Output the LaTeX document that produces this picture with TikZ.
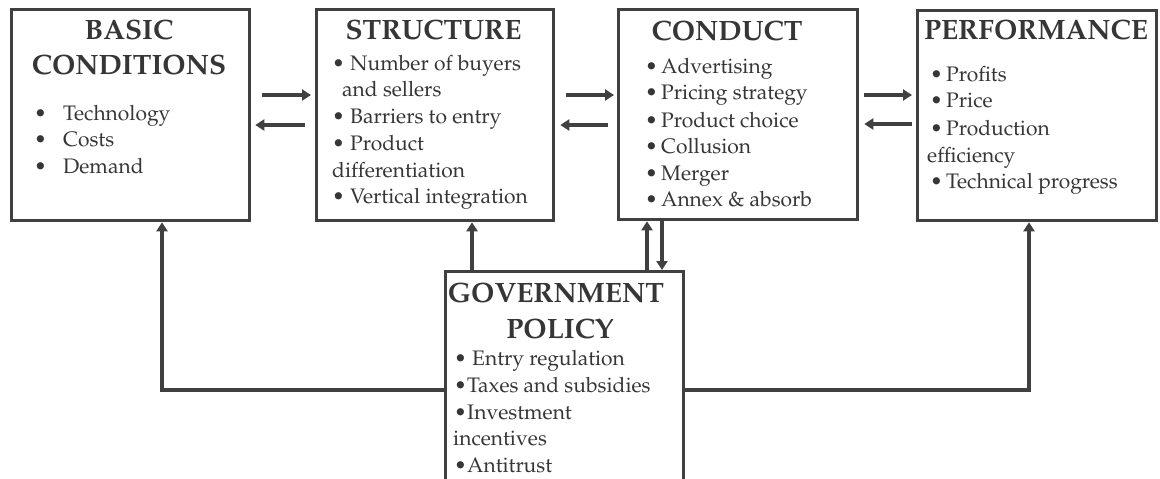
\documentclass[tikz,border=0pt]{standalone}
\usepackage[T1]{fontenc}
\usepackage{mathpazo}
\usetikzlibrary{arrows.meta,calc}
\definecolor{ink}{HTML}{404040}
\definecolor{txt}{HTML}{363636}
% bullet followed by a gap of fixed width
\newcommand{\bitem}[1]{\makebox[#1][l]{\textbullet}}
\begin{document}
\begin{tikzpicture}[x=1pt,y=-1pt,
  box/.style={draw=ink, line width=3.3pt, fill=white, inner sep=0pt, anchor=north west},
  head/.style={anchor=base, font=\fontsize{28}{28}\bfseries\selectfont, text=txt, inner sep=0pt},
  item/.style={anchor=base west, font=\fontsize{21}{21}\selectfont, text=txt, inner sep=0pt},
  link/.style={draw=ink, line width=3.4pt, -{Triangle[length=9pt,width=11pt]}}]
\useasboundingbox (0,0) rectangle (1160,479);
\clip (0,0) rectangle (1160,479);

% the five boxes
\node[box, minimum width=238pt, minimum height=211pt] (basic)  at (10,8)   {};
\node[box, minimum width=237pt, minimum height=211pt] (struct) at (315,8)  {};
\node[box, minimum width=239pt, minimum height=210pt] (cond)   at (617,8)  {};
\node[box, minimum width=239pt, minimum height=210pt] (perf)   at (916,9)  {};
\node[box, minimum width=238pt, minimum height=240pt] (gov)    at (444,270) {};

% BASIC CONDITIONS
\node[head] (bt1) at (129,39) {BASIC};
\node[head] (bt2) at (129,74) {CONDITIONS};
\node[item] (b1) at (34,120) {\bitem{29pt}Technology};
\node[item] (b2) at (34,146) {\bitem{29pt}Costs};
\node[item] (b3) at (34,173) {\bitem{29pt}Demand};

% STRUCTURE
\node[head] (st1) at (433.5,39) {STRUCTURE};
\node[item] (s1) at (332,70)  {\bitem{18pt}Number of buyers};
\node[item] (s2) at (342,96)  {and sellers};
\node[item] (s3) at (332,123) {\bitem{18pt}Barriers to entry};
\node[item] (s4) at (332,150) {\bitem{18pt}Product};
\node[item] (s5) at (332,177) {differentiation};
\node[item] (s6) at (332,203) {\bitem{18pt}Vertical integration};

% CONDUCT
\node[head] (ct1) at (727,40) {CONDUCT};
\node[item] (c1) at (645,73)  {\bitem{16pt}Advertising};
\node[item] (c2) at (645,99)  {\bitem{16pt}Pricing strategy};
\node[item] (c3) at (645,127) {\bitem{16pt}Product choice};
\node[item] (c4) at (645,153) {\bitem{16pt}Collusion};
\node[item] (c5) at (645,180) {\bitem{16pt}Merger};
\node[item] (c6) at (645,206) {\bitem{16pt}Annex \& absorb};

% PERFORMANCE
\node[head] (pt1) at (1036,39) {PERFORMANCE};
\node[item] (p1) at (930,81)  {\bitem{16pt}Profits};
\node[item] (p2) at (930,107) {\bitem{16pt}Price};
\node[item] (p3) at (930,135) {\bitem{16pt}Production};
\node[item] (p4) at (927,162) {efficiency};
\node[item] (p5) at (930,188) {\bitem{16pt}Technical progress};

% GOVERNMENT POLICY
\node[head] (gt1) at (556,302) {GOVERNMENT};
\node[head] (gt2) at (560,338) {POLICY};
\node[item] (g1) at (454,365) {\bitem{18pt}Entry regulation};
\node[item] (g2) at (454,392) {\bitem{13pt}Taxes and subsidies};
\node[item] (g3) at (454,419) {\bitem{13pt}Investment};
\node[item] (g4) at (453,445) {incentives};
\node[item] (g5) at (454,472) {\bitem{13pt}Antitrust};

% paired arrows between neighbouring boxes
\draw[link] ($(basic.north east)+(11,87)$) -- ($(struct.north west)+(-4,87)$);
\draw[link] ($(struct.north west)+(-10,117)$) -- ($(basic.north east)+(4,117)$);
\draw[link] ($(struct.north east)+(11,87)$) -- ($(cond.north west)+(-3,87)$);
\draw[link] ($(cond.north west)+(-9,117)$) -- ($(struct.north east)+(5,117)$);
\draw[link] ($(cond.north east)+(5,87)$) -- ($(perf.north west)+(-4,86)$);
\draw[link] ($(perf.north west)+(-4,115)$) -- ($(cond.north east)+(5,116)$);

% government policy feeding the other boxes
\coordinate (lc) at (162,390);
\coordinate (rc) at (1029,390);
\coordinate (gs) at ($(gov.north west)+(28,0)$);
\coordinate (gu) at ($(gov.north west)+(203,0)$);
\coordinate (gd) at ($(gov.north west)+(218,0)$);
\draw[link] ($(gov.north west)+(0,120)$) -- (lc) -- (lc |- basic.south);
\draw[link] ($(gov.north east)+(0,120)$) -- (rc) -- (rc |- perf.south);
\draw[link] (gs) -- (gs |- struct.south);
\draw[link] (gu) -- (gu |- cond.south);
\draw[link] (gd |- cond.south) -- (gd);
\end{tikzpicture}
\end{document}
